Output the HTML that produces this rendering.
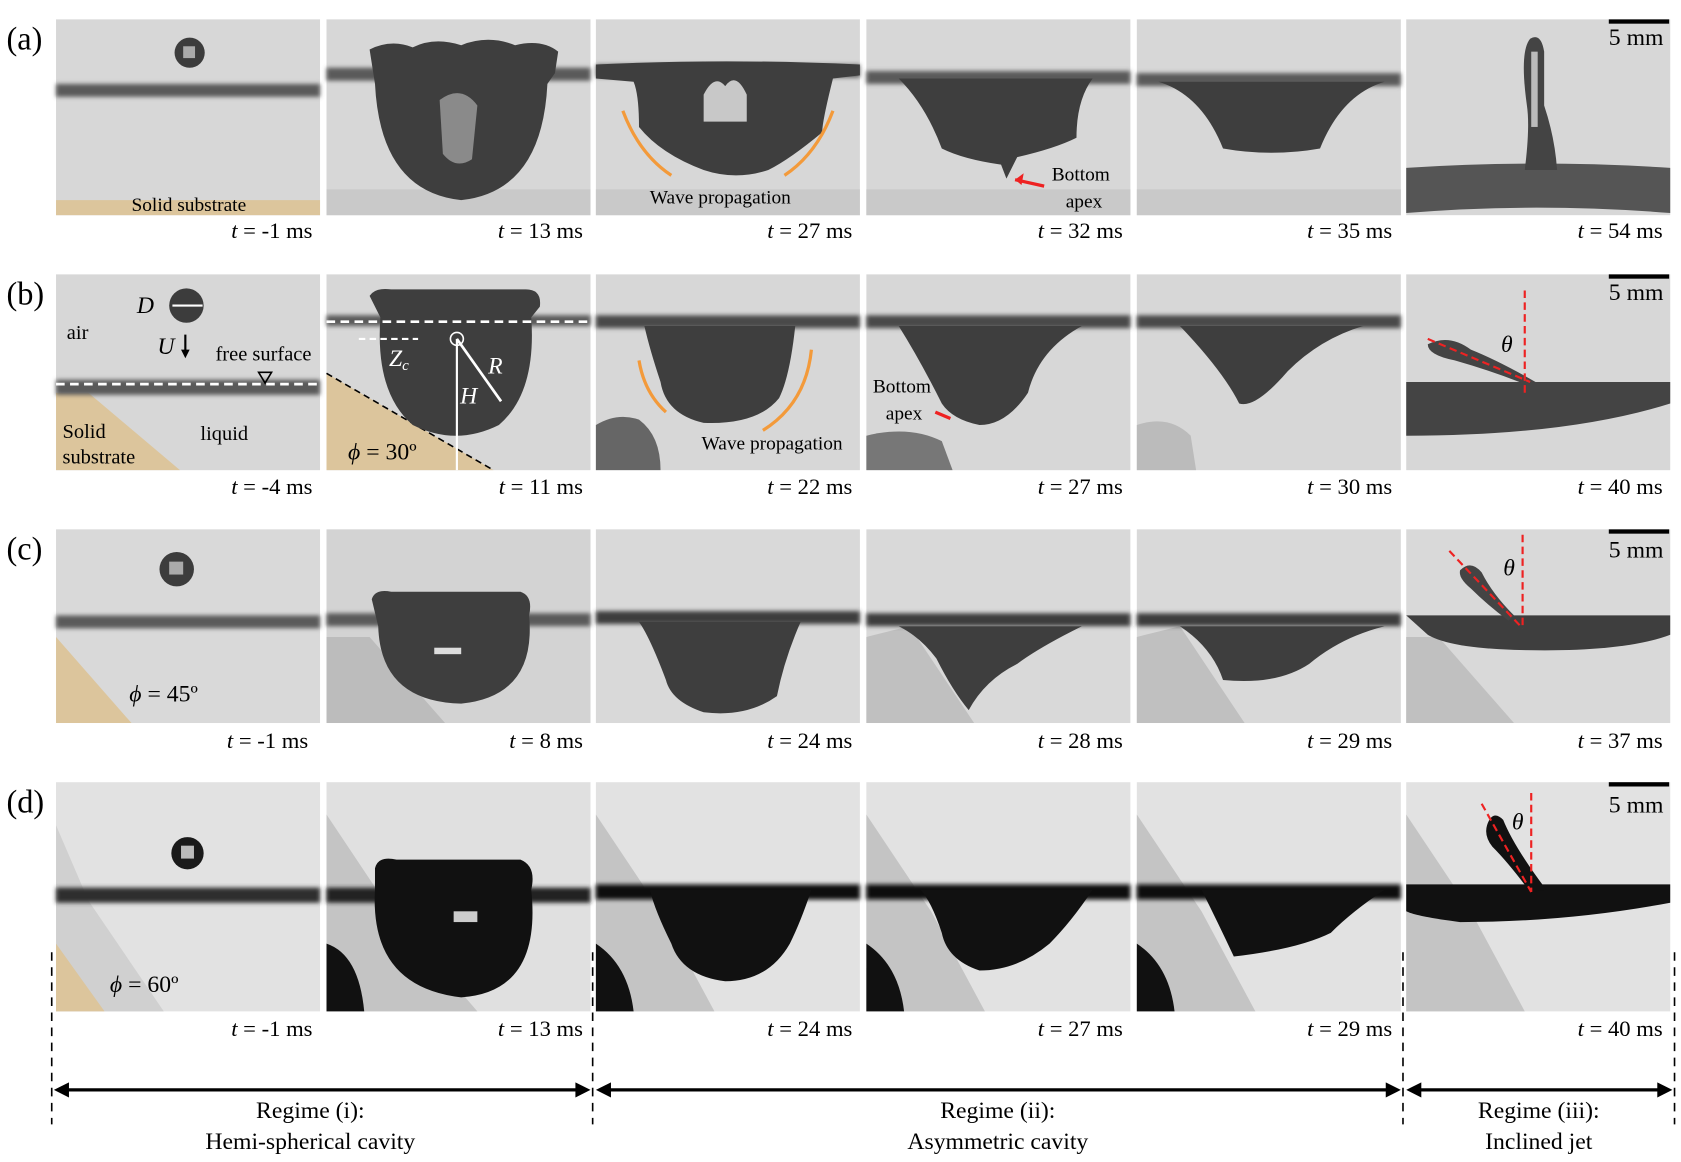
<!DOCTYPE html>
<html><head><meta charset="utf-8">
<style>
html,body{margin:0;padding:0;background:#fff;}
svg{display:block;font-family:"Liberation Serif",serif;}
</style></head>
<body>
<svg width="1681" height="1162" viewBox="0 0 1560 1080" preserveAspectRatio="none" xmlns="http://www.w3.org/2000/svg">
<defs>
<filter id="bl" x="-10%" y="-50%" width="120%" height="200%"><feGaussianBlur stdDeviation="2"/></filter>
</defs>

<!-- Row labels -->
<g font-size="30" fill="#000">
<text x="6" y="46">(a)</text>
<text x="6" y="283">(b)</text>
<text x="6" y="520">(c)</text>
<text x="6" y="755">(d)</text>
</g>

<!-- ROW A -->
<g>
 <g transform="translate(52,18)">
  <rect width="245" height="182" fill="#d7d7d7"/>
  <rect y="60" width="245" height="12" fill="#5a5a5a" filter="url(#bl)"/>
  <rect y="168" width="245" height="14" fill="#dcc59c"/>
  <circle cx="124" cy="31" r="14" fill="#3c3c3c"/><rect x="118" y="25" width="11" height="11" fill="#aaa"/>
  <text x="70" y="178" font-size="18">Solid substrate</text>
 </g>
 <g transform="translate(303,18)">
  <rect width="245" height="182" fill="#d7d7d7"/><rect y="158" width="245" height="24" fill="#c9c9c9"/>
  <rect y="45" width="245" height="12" fill="#5a5a5a" filter="url(#bl)"/>
  <path d="M40 28 Q60 18 80 26 Q100 16 125 24 Q150 14 175 24 Q200 18 215 30 L212 50 L205 60 Q200 160 125 168 Q50 160 45 60 Z" fill="#3e3e3e"/>
  <path d="M105 75 Q125 60 140 80 L135 130 Q120 140 108 125 Z" fill="#8a8a8a"/>
 </g>
 <g transform="translate(553,18)">
  <rect width="245" height="182" fill="#d7d7d7"/><rect y="158" width="245" height="24" fill="#c9c9c9"/>
  <rect y="42" width="245" height="12" fill="#5a5a5a" filter="url(#bl)"/>
  <path d="M0 42 Q120 36 245 42 L245 52 L220 55 Q210 95 210 105 Q180 130 160 140 Q130 150 100 140 Q60 125 40 100 Q40 70 35 58 L0 55 Z" fill="#3e3e3e"/>
  <path d="M100 70 Q110 50 120 62 Q130 48 140 70 L140 95 L100 95 Z" fill="#c8c8c8"/>
  <path d="M25 85 Q40 125 70 145" fill="none" stroke="#f39a3a" stroke-width="3"/>
  <path d="M220 85 Q205 125 175 145" fill="none" stroke="#f39a3a" stroke-width="3"/>
  <text x="50" y="171" font-size="18">Wave propagation</text>
 </g>
 <g transform="translate(804,18)">
  <rect width="245" height="182" fill="#d7d7d7"/><rect y="158" width="245" height="24" fill="#c9c9c9"/>
  <rect y="48" width="245" height="12" fill="#5a5a5a" filter="url(#bl)"/>
  <path d="M30 55 L210 55 Q195 75 195 110 Q175 120 140 128 L130 148 L125 135 Q90 130 70 120 Q55 80 30 55 Z" fill="#3e3e3e"/>
  <text x="172" y="150" font-size="18">Bottom</text><text x="185" y="175" font-size="18">apex</text>
  <path d="M165 155 L138 149" stroke="#e22" stroke-width="3"/><path d="M138 149 L146 143 L144 154 Z" fill="#e22"/>
 </g>
 <g transform="translate(1055,18)">
  <rect width="245" height="182" fill="#d7d7d7"/><rect y="158" width="245" height="24" fill="#c9c9c9"/>
  <rect y="50" width="245" height="12" fill="#5a5a5a" filter="url(#bl)"/>
  <path d="M20 58 L230 58 Q190 70 170 120 Q125 128 80 120 Q60 70 20 58 Z" fill="#3e3e3e"/>
 </g>
 <g transform="translate(1305,18)">
  <rect width="245" height="182" fill="#d7d7d7"/>
  <path d="M0 138 Q120 130 245 138 L245 180 Q120 170 0 180 Z" fill="#555"/>
  <path d="M110 140 Q115 100 112 80 Q105 30 115 18 Q125 12 128 30 L128 80 Q138 110 140 140 Z" fill="#444"/>
  <rect x="116" y="30" width="6" height="70" fill="#bbb"/>
  <rect x="188" y="0" width="56" height="4" fill="#000"/>
  <text x="188" y="24" font-size="22">5 mm</text>
 </g>
</g>

<!-- ROW B -->
<g>
 <g transform="translate(52,255)">
  <rect width="245" height="182" fill="#d7d7d7"/>
  <path d="M0 110 L30 110 L115 182 L0 182 Z" fill="#dcc59c"/>
  <rect y="98" width="245" height="14" fill="#5a5a5a" filter="url(#bl)"/>
  <line x1="0" y1="102" x2="245" y2="102" stroke="#fff" stroke-width="2.5" stroke-dasharray="8,5"/>
  <circle cx="121" cy="29" r="16" fill="#3c3c3c"/>
  <line x1="108" y1="29" x2="136" y2="29" stroke="#fff" stroke-width="2"/>
  <text x="75" y="36" font-size="22" font-style="italic">D</text>
  <text x="10" y="60" font-size="19">air</text>
  <text x="94" y="74" font-size="22" font-style="italic">U</text>
  <path d="M120 56 L120 74" stroke="#000" stroke-width="2"/><path d="M116 70 L120 78 L124 70 Z"/>
  <text x="148" y="80" font-size="19">free surface</text>
  <path d="M188 91 L200 91 L194 101 Z" fill="none" stroke="#000" stroke-width="1.5"/>
  <text x="6" y="152" font-size="19">Solid</text><text x="6" y="176" font-size="19">substrate</text>
  <text x="134" y="154" font-size="19">liquid</text>
 </g>
 <g transform="translate(303,255)">
  <rect width="245" height="182" fill="#d7d7d7"/>
  <path d="M0 92 L155 182 L0 182 Z" fill="#dcc59c"/>
  <line x1="0" y1="92" x2="155" y2="182" stroke="#000" stroke-width="1.5" stroke-dasharray="6,4"/>
  <rect y="38" width="245" height="10" fill="#5a5a5a" filter="url(#bl)"/>
  <path d="M40 20 Q45 12 60 14 L185 14 Q200 14 198 30 L190 40 Q195 110 160 140 Q120 160 80 140 Q45 110 50 40 Z" fill="#3e3e3e"/>
  <line x1="0" y1="44" x2="245" y2="44" stroke="#fff" stroke-width="2.5" stroke-dasharray="8,5"/>
  <line x1="30" y1="60" x2="85" y2="60" stroke="#fff" stroke-width="2" stroke-dasharray="6,4"/>
  <circle cx="121" cy="60" r="6" fill="none" stroke="#fff" stroke-width="1.5"/>
  <line x1="121" y1="60" x2="121" y2="182" stroke="#fff" stroke-width="2"/>
  <line x1="121" y1="60" x2="162" y2="118" stroke="#fff" stroke-width="2.5"/>
  <text x="58" y="85" font-size="22" font-style="italic" fill="#fff">Z<tspan font-size="14" dy="4">c</tspan></text>
  <text x="150" y="92" font-size="22" font-style="italic" fill="#fff">R</text>
  <text x="124" y="120" font-size="22" font-style="italic" fill="#fff">H</text>
  <text x="20" y="172" font-size="22"><tspan font-style="italic">ϕ</tspan> = 30º</text>
 </g>
 <g transform="translate(553,255)">
  <rect width="245" height="182" fill="#d7d7d7"/>
  <path d="M0 140 Q20 128 40 135 Q60 150 60 182 L0 182 Z" fill="#666"/>
  <rect y="38" width="245" height="12" fill="#4a4a4a" filter="url(#bl)"/>
  <path d="M45 48 L185 48 Q180 95 170 115 Q150 140 100 138 Q65 130 60 100 Q50 70 45 48 Z" fill="#3e3e3e"/>
  <path d="M40 80 Q45 110 65 128" fill="none" stroke="#f39a3a" stroke-width="3"/>
  <path d="M200 70 Q195 120 155 145" fill="none" stroke="#f39a3a" stroke-width="3"/>
  <text x="98" y="163" font-size="18">Wave propagation</text>
 </g>
 <g transform="translate(804,255)">
  <rect width="245" height="182" fill="#d7d7d7"/>
  <path d="M0 150 Q40 140 70 155 L80 182 L0 182 Z" fill="#777"/>
  <rect y="38" width="245" height="12" fill="#4a4a4a" filter="url(#bl)"/>
  <path d="M30 48 L200 48 Q160 70 150 110 Q130 140 105 140 Q80 135 70 120 Q50 80 30 48 Z" fill="#3e3e3e"/>
  <text x="6" y="110" font-size="18">Bottom</text><text x="18" y="135" font-size="18">apex</text>
  <path d="M64 128 L78 134" stroke="#e22" stroke-width="3"/>
 </g>
 <g transform="translate(1055,255)">
  <rect width="245" height="182" fill="#d7d7d7"/>
  <path d="M0 140 Q30 130 50 150 L55 182 L0 182 Z" fill="#bbb"/>
  <rect y="38" width="245" height="12" fill="#4a4a4a" filter="url(#bl)"/>
  <path d="M40 48 L210 48 Q170 60 140 90 Q110 125 95 120 Q80 90 40 48 Z" fill="#3e3e3e"/>
 </g>
 <g transform="translate(1305,255)">
  <rect width="245" height="182" fill="#d7d7d7"/>
  <path d="M0 100 L245 100 L245 120 Q150 150 0 150 Z" fill="#444"/>
  <path d="M20 65 Q40 55 60 70 Q85 80 120 100 L110 102 Q80 90 45 80 Q20 75 20 65 Z" fill="#444"/>
  <line x1="110" y1="15" x2="110" y2="110" stroke="#e22" stroke-width="2" stroke-dasharray="7,4"/>
  <line x1="20" y1="60" x2="115" y2="100" stroke="#e22" stroke-width="2" stroke-dasharray="7,4"/>
  <text x="88" y="72" font-size="22" font-style="italic">θ</text>
  <rect x="188" y="0" width="56" height="4" fill="#000"/>
  <text x="188" y="24" font-size="22">5 mm</text>
 </g>
</g>

<!-- ROW C -->
<g>
 <g transform="translate(52,492)">
  <rect width="245" height="180" fill="#d9d9d9"/>
  <path d="M0 100 L70 180 L0 180 Z" fill="#dcc59c"/>
  <rect y="80" width="245" height="12" fill="#5a5a5a" filter="url(#bl)"/>
  <circle cx="112" cy="37" r="16" fill="#3c3c3c"/><rect x="105" y="30" width="13" height="12" fill="#aaa"/>
  <text x="68" y="160" font-size="22"><tspan font-style="italic">ϕ</tspan> = 45º</text>
 </g>
 <g transform="translate(303,492)">
  <rect width="245" height="180" fill="#d3d3d3"/>
  <path d="M0 100 L40 100 L110 180 L0 180 Z" fill="#bcbcbc"/>
  <rect y="78" width="245" height="12" fill="#5a5a5a" filter="url(#bl)"/>
  <path d="M42 65 Q45 55 60 58 L180 58 Q192 62 188 80 Q195 155 125 162 Q50 160 48 90 Z" fill="#3e3e3e"/>
  <rect x="100" y="110" width="25" height="6" fill="#ddd"/>
 </g>
 <g transform="translate(553,492)">
  <rect width="245" height="180" fill="#d9d9d9"/>
  <rect y="76" width="245" height="12" fill="#3e3e3e" filter="url(#bl)"/>
  <path d="M40 86 L190 86 Q175 120 168 155 Q140 175 100 170 Q70 160 65 140 Q50 100 40 86 Z" fill="#3e3e3e"/>
 </g>
 <g transform="translate(804,492)">
  <rect width="245" height="180" fill="#d9d9d9"/>
  <path d="M0 100 L40 90 L100 180 L0 180 Z" fill="#c0c0c0"/>
  <rect y="78" width="245" height="12" fill="#3e3e3e" filter="url(#bl)"/>
  <path d="M30 90 L200 90 Q160 110 140 125 Q110 140 95 168 Q80 150 65 120 Q50 100 30 90 Z" fill="#3e3e3e"/>
 </g>
 <g transform="translate(1055,492)">
  <rect width="245" height="180" fill="#d9d9d9"/>
  <path d="M0 100 L40 90 L100 180 L0 180 Z" fill="#c0c0c0"/>
  <rect y="78" width="245" height="12" fill="#3e3e3e" filter="url(#bl)"/>
  <path d="M40 90 L230 90 Q190 100 160 125 Q130 145 80 140 Q70 110 40 90 Z" fill="#3e3e3e"/>
 </g>
 <g transform="translate(1305,492)">
  <rect width="245" height="180" fill="#d9d9d9"/>
  <path d="M0 100 L30 100 L100 180 L0 180 Z" fill="#c0c0c0"/>
  <path d="M0 80 L245 80 L245 98 Q200 115 100 112 Q40 110 20 98 Z" fill="#3e3e3e"/>
  <path d="M50 38 Q60 28 70 40 Q80 60 100 80 L95 85 Q75 70 60 55 Q48 45 50 38 Z" fill="#444"/>
  <line x1="108" y1="5" x2="108" y2="92" stroke="#e22" stroke-width="2" stroke-dasharray="7,4"/>
  <line x1="40" y1="20" x2="108" y2="92" stroke="#e22" stroke-width="2" stroke-dasharray="7,4"/>
  <text x="90" y="43" font-size="22" font-style="italic">θ</text>
  <rect x="188" y="0" width="56" height="4" fill="#000"/>
  <text x="188" y="26" font-size="22">5 mm</text>
 </g>
</g>

<!-- ROW D -->
<g>
 <g transform="translate(52,727)">
  <rect width="245" height="213" fill="#e2e2e2"/>
  <path d="M0 40 L30 110 L100 213 L0 213 Z" fill="#d0d0d0"/>
  <path d="M0 150 L45 213 L0 213 Z" fill="#dcc59c"/>
  <rect y="98" width="245" height="14" fill="#2e2e2e" filter="url(#bl)"/>
  <circle cx="122" cy="66" r="15" fill="#1a1a1a"/><rect x="116" y="59" width="12" height="12" fill="#bbb"/>
  <text x="50" y="195" font-size="22"><tspan font-style="italic">ϕ</tspan> = 60º</text>
 </g>
 <g transform="translate(303,727)">
  <rect width="245" height="213" fill="#e0e0e0"/>
  <path d="M0 30 L60 120 L140 213 L0 213 Z" fill="#c4c4c4"/>
  <path d="M0 150 Q30 160 35 213 L0 213 Z" fill="#111"/>
  <rect y="98" width="245" height="14" fill="#222" filter="url(#bl)"/>
  <path d="M45 80 Q48 68 65 72 L180 72 Q195 78 190 100 Q200 195 125 200 Q40 190 45 100 Z" fill="#111"/>
  <rect x="118" y="120" width="22" height="10" fill="#ccc"/>
 </g>
 <g transform="translate(553,727)">
  <rect width="245" height="213" fill="#e2e2e2"/>
  <path d="M0 30 L60 120 L110 213 L0 213 Z" fill="#c4c4c4"/>
  <path d="M0 150 Q30 170 35 213 L0 213 Z" fill="#111"/>
  <rect y="95" width="245" height="14" fill="#111" filter="url(#bl)"/>
  <path d="M50 100 L200 100 Q190 130 180 150 Q160 185 120 185 Q80 180 70 150 Q55 120 50 100 Z" fill="#111"/>
 </g>
 <g transform="translate(804,727)">
  <rect width="245" height="213" fill="#e2e2e2"/>
  <path d="M0 30 L60 120 L110 213 L0 213 Z" fill="#c4c4c4"/>
  <path d="M0 150 Q30 170 35 213 L0 213 Z" fill="#111"/>
  <rect y="95" width="245" height="14" fill="#111" filter="url(#bl)"/>
  <path d="M50 100 L210 100 Q190 130 170 150 Q140 175 105 175 Q75 165 70 140 Q60 110 50 100 Z" fill="#111"/>
 </g>
 <g transform="translate(1055,727)">
  <rect width="245" height="213" fill="#e2e2e2"/>
  <path d="M0 30 L60 120 L110 213 L0 213 Z" fill="#c4c4c4"/>
  <path d="M0 150 Q30 170 35 213 L0 213 Z" fill="#111"/>
  <rect y="95" width="245" height="14" fill="#111" filter="url(#bl)"/>
  <path d="M60 100 L230 100 Q200 120 180 140 Q150 155 90 162 Q75 130 60 100 Z" fill="#111"/>
 </g>
 <g transform="translate(1305,727)">
  <rect width="245" height="213" fill="#e2e2e2"/>
  <path d="M0 30 L60 120 L110 213 L0 213 Z" fill="#c4c4c4"/>
  <path d="M0 95 L245 95 L245 112 Q150 130 50 130 Q10 125 0 120 Z" fill="#111"/>
  <path d="M75 40 Q80 25 90 35 Q100 60 130 100 L115 102 Q95 75 80 60 Q72 50 75 40 Z" fill="#111"/>
  <line x1="116" y1="10" x2="116" y2="102" stroke="#e22" stroke-width="2" stroke-dasharray="7,4"/>
  <line x1="70" y1="20" x2="116" y2="102" stroke="#e22" stroke-width="2" stroke-dasharray="7,4"/>
  <text x="98" y="44" font-size="22" font-style="italic">θ</text>
  <rect x="188" y="0" width="56" height="4" fill="#000"/>
  <text x="188" y="28" font-size="22">5 mm</text>
 </g>
</g>

<!-- Time labels -->
<g font-size="21" text-anchor="end">
 <text x="290" y="221"><tspan font-style="italic">t</tspan> = -1 ms</text>
 <text x="541" y="221"><tspan font-style="italic">t</tspan> = 13 ms</text>
 <text x="791" y="221"><tspan font-style="italic">t</tspan> = 27 ms</text>
 <text x="1042" y="221"><tspan font-style="italic">t</tspan> = 32 ms</text>
 <text x="1292" y="221"><tspan font-style="italic">t</tspan> = 35 ms</text>
 <text x="1543" y="221"><tspan font-style="italic">t</tspan> = 54 ms</text>
 <text x="290" y="459"><tspan font-style="italic">t</tspan> = -4 ms</text>
 <text x="541" y="459"><tspan font-style="italic">t</tspan> = 11 ms</text>
 <text x="791" y="459"><tspan font-style="italic">t</tspan> = 22 ms</text>
 <text x="1042" y="459"><tspan font-style="italic">t</tspan> = 27 ms</text>
 <text x="1292" y="459"><tspan font-style="italic">t</tspan> = 30 ms</text>
 <text x="1543" y="459"><tspan font-style="italic">t</tspan> = 40 ms</text>
 <text x="286" y="695"><tspan font-style="italic">t</tspan> = -1 ms</text>
 <text x="541" y="695"><tspan font-style="italic">t</tspan> = 8 ms</text>
 <text x="791" y="695"><tspan font-style="italic">t</tspan> = 24 ms</text>
 <text x="1042" y="695"><tspan font-style="italic">t</tspan> = 28 ms</text>
 <text x="1292" y="695"><tspan font-style="italic">t</tspan> = 29 ms</text>
 <text x="1543" y="695"><tspan font-style="italic">t</tspan> = 37 ms</text>
 <text x="290" y="963"><tspan font-style="italic">t</tspan> = -1 ms</text>
 <text x="541" y="963"><tspan font-style="italic">t</tspan> = 13 ms</text>
 <text x="791" y="963"><tspan font-style="italic">t</tspan> = 24 ms</text>
 <text x="1042" y="963"><tspan font-style="italic">t</tspan> = 27 ms</text>
 <text x="1292" y="963"><tspan font-style="italic">t</tspan> = 29 ms</text>
 <text x="1543" y="963"><tspan font-style="italic">t</tspan> = 40 ms</text>
</g>

<!-- Regime dividers and arrows -->
<g stroke="#000" stroke-width="1.5" stroke-dasharray="8,6">
 <line x1="48" y1="885" x2="48" y2="1045"/>
 <line x1="550" y1="885" x2="550" y2="1045"/>
 <line x1="1302" y1="885" x2="1302" y2="1045"/>
 <line x1="1554" y1="885" x2="1554" y2="1045"/>
</g>
<g>
 <line x1="56" y1="1013" x2="542" y2="1013" stroke="#000" stroke-width="3"/>
 <path d="M50 1013 L64 1006 L64 1020 Z"/><path d="M548 1013 L534 1006 L534 1020 Z"/>
 <line x1="560" y1="1013" x2="1294" y2="1013" stroke="#000" stroke-width="3"/>
 <path d="M553 1013 L567 1006 L567 1020 Z"/><path d="M1300 1013 L1286 1006 L1286 1020 Z"/>
 <line x1="1312" y1="1013" x2="1546" y2="1013" stroke="#000" stroke-width="3"/>
 <path d="M1305 1013 L1319 1006 L1319 1020 Z"/><path d="M1552 1013 L1538 1006 L1538 1020 Z"/>
</g>
<g font-size="22" text-anchor="middle">
 <text x="288" y="1039">Regime (i):</text><text x="288" y="1068">Hemi-spherical cavity</text>
 <text x="926" y="1039">Regime (ii):</text><text x="926" y="1068">Asymmetric cavity</text>
 <text x="1428" y="1039">Regime (iii):</text><text x="1428" y="1068">Inclined jet</text>
</g>
</svg>
</body></html>
